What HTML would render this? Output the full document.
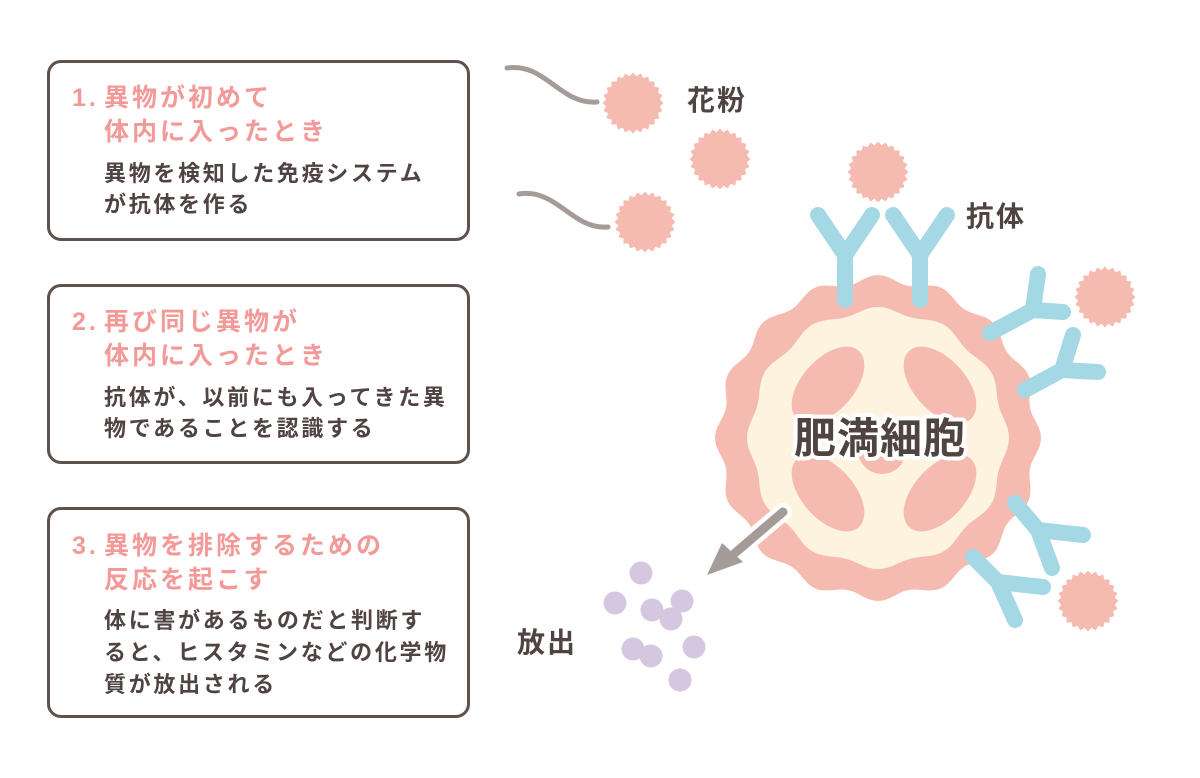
<!DOCTYPE html>
<html><head><meta charset="utf-8"><style>
body{margin:0;width:1200px;height:778px;background:#fff;position:relative;overflow:hidden;font-family:"Liberation Sans","Noto Sans CJK JP",sans-serif;}
.box{position:absolute;left:47px;width:423px;border:3px solid #5e524e;border-radius:14px;box-sizing:border-box;}
.t{position:absolute;color:#f39a98;font-weight:bold;font-size:25px;letter-spacing:3px;line-height:34px;white-space:nowrap;}
.b{position:absolute;color:#4f4441;font-weight:bold;font-size:22px;letter-spacing:2.7px;line-height:31px;white-space:nowrap;}
.lbl{position:absolute;color:#4f4441;font-weight:bold;font-size:28px;letter-spacing:2px;line-height:34px;}
svg{position:absolute;left:0;top:0}
</style></head><body>
<div class="box" style="top:60px;height:181px"></div>
<div class="box" style="top:284px;height:180px"></div>
<div class="box" style="top:507px;height:211px"></div>

<div class="t" style="left:72px;top:81px">1.</div>
<div class="t" style="left:104px;top:81px">異物が初めて<br>体内に入ったとき</div>
<div class="b" style="left:104px;top:158px">異物を検知した免疫システム<br>が抗体を作る</div>

<div class="t" style="left:72px;top:305px">2.</div>
<div class="t" style="left:104px;top:305px">再び同じ異物が<br>体内に入ったとき</div>
<div class="b" style="left:104px;top:382px">抗体が、以前にも入ってきた異<br>物であることを認識する</div>

<div class="t" style="left:72px;top:529px">3.</div>
<div class="t" style="left:104px;top:529px">異物を排除するための<br>反応を起こす</div>
<div class="b" style="left:104px;top:605px;line-height:32px">体に害があるものだと判断す<br>ると、ヒスタミンなどの化学物<br>質が放出される</div>

<svg width="1200" height="778" id="s">
<g fill="none" stroke="#a59c99" stroke-width="5" stroke-linecap="round">
<path d="M507,68 C545,62 560,105 597,102"/>
<path d="M519,194 C557,188 572,230 608,227"/>
</g>
<path id="outer" fill="#f5bbb0"/>
<path id="inner" fill="#fef3df"/>
<g fill="#f5bbb0">
<ellipse cx="828" cy="385" rx="26" ry="46" transform="rotate(42 828 385)"/>
<ellipse cx="940" cy="385" rx="26" ry="46" transform="rotate(-42 940 385)"/>
<ellipse cx="828" cy="493" rx="26" ry="46" transform="rotate(-42 828 493)"/>
<ellipse cx="940" cy="493" rx="26" ry="46" transform="rotate(42 940 493)"/>
<circle cx="882" cy="450" r="24"/>
</g>
<g fill="none" stroke="#a3d8e4" stroke-width="16" stroke-linecap="round" stroke-linejoin="round">
<path d="M845,300 V255 L818,215 M845,255 L872,215"/>
<path d="M920,300 V255 L893,215 M920,255 L947,215"/>
<path d="M990,333 L1033,310 L1038,274 M1033,310 L1063,312"/>
<path d="M1025,390 L1062,370 L1073,335 M1062,370 L1098,372"/>
<path d="M1015,503 L1038,530 L1083,535 M1038,530 L1052,568"/>
<path d="M973,557 L998,582 L1043,587 M998,582 L1015,620"/>
</g>
<g id="pol" fill="#f5bbb0"></g>
<path d="M783,512 L738,550" stroke="#fff" stroke-width="18" stroke-linecap="round"/>
<path d="M783,512 L735,553" stroke="#a59c99" stroke-width="9" stroke-linecap="round"/>
<polygon points="707,575 722,543 743,562" fill="#a59c99"/>
<g fill="#d5c7df">
<circle cx="641" cy="573" r="11.5"/><circle cx="615" cy="603" r="11.5"/><circle cx="652" cy="610" r="11.5"/>
<circle cx="682" cy="601" r="11.5"/><circle cx="671" cy="619" r="11.5"/><circle cx="633" cy="649" r="11.5"/>
<circle cx="651" cy="656" r="11.5"/><circle cx="694" cy="647" r="11.5"/><circle cx="680" cy="680" r="11.5"/>
</g>
<text x="880" y="453" text-anchor="middle" font-family="Liberation Sans,Noto Sans CJK JP,sans-serif" font-weight="bold" font-size="42" fill="#fff" stroke="#fff" stroke-width="8" stroke-linejoin="round" letter-spacing="1">肥満細胞</text>
<text x="880" y="453" text-anchor="middle" font-family="Liberation Sans,Noto Sans CJK JP,sans-serif" font-weight="bold" font-size="42" fill="#4f4441" letter-spacing="1">肥満細胞</text>
</svg>
<div class="lbl" style="left:687px;top:84px">花粉</div>
<div class="lbl" style="left:966px;top:200px">抗体</div>
<div class="lbl" style="left:517px;top:626px">放出</div>
<script>
function wave(cx,cy,r,a,n){let d='';for(let i=0;i<=360;i++){const t=i*Math.PI/180;const rr=r+a*Math.cos(n*t);d+=(i?'L':'M')+(cx+rr*Math.cos(t)).toFixed(1)+','+(cy+rr*Math.sin(t)).toFixed(1);}return d+'Z';}
document.getElementById('outer').setAttribute('d',wave(878,438,159,4,16));
document.getElementById('inner').setAttribute('d',wave(878,438,128,3,12));
const g=document.getElementById('pol');
[[633,103],[720,159],[878,172],[645,222],[1105,297],[1088,601]].forEach(([x,y])=>{let p='';const n=24;for(let i=0;i<2*n;i++){const t=i*Math.PI/n;const r=i%2?27:30.5;p+=(x+r*Math.cos(t)).toFixed(1)+','+(y+r*Math.sin(t)).toFixed(1)+' ';}const e=document.createElementNS('http://www.w3.org/2000/svg','polygon');e.setAttribute('points',p);g.appendChild(e);});
</script>
</body></html>
